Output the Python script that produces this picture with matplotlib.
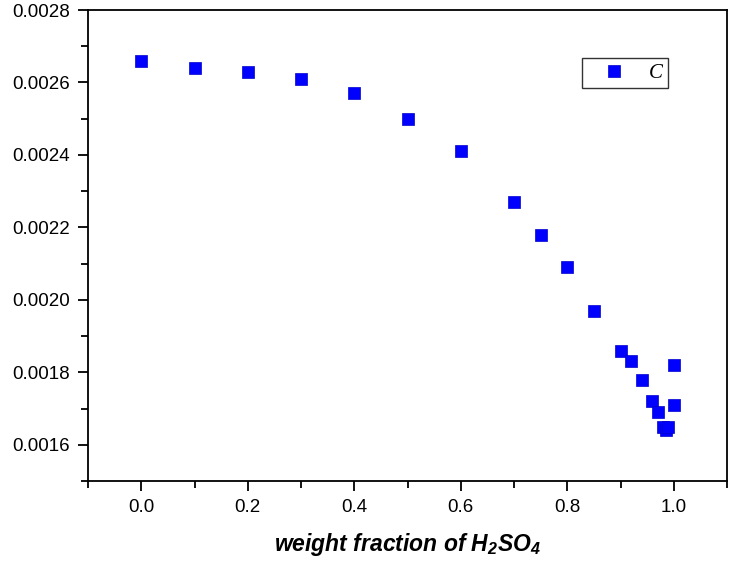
import matplotlib
matplotlib.use("Agg")
import matplotlib.pyplot as plt
from matplotlib.ticker import MultipleLocator, FormatStrFormatter

x_frac = [0.0, 0.1, 0.2, 0.3, 0.4, 0.5, 0.6, 0.7, 0.75, 0.8, 0.85, 0.9, 0.92,
          0.94, 0.96, 0.97, 0.98, 0.985, 0.99, 1.0, 1.0]
c_vals = [0.00266, 0.00264, 0.00263, 0.00261, 0.00257, 0.00250, 0.00241, 0.00227,
          0.00218, 0.00209, 0.00197, 0.00186, 0.00183, 0.00178, 0.00172, 0.00169,
          0.00165, 0.00164, 0.00165, 0.00171, 0.00182]
series_label = "C"

plt.rcParams['font.family'] = ['Liberation Sans', 'DejaVu Sans']
plt.rcParams['mathtext.fontset'] = 'custom'
plt.rcParams['mathtext.rm'] = 'Liberation Sans:italic:bold'
plt.rcParams['mathtext.it'] = 'Liberation Sans:italic:bold'

fig = plt.figure(figsize=(7.52, 5.67), dpi=100)
ax = fig.add_axes([88/752, 1-481/567, (727-88)/752, (481-10)/567])

ax.plot(x_frac, c_vals, linestyle='none', marker='s', markersize=8.5,
        markerfacecolor='#0000ff', markeredgecolor='#0000cc', markeredgewidth=0.5,
        label=series_label)

ax.set_xlim(-0.1, 1.1)
ax.set_ylim(0.0015, 0.0028)
ax.xaxis.set_major_locator(MultipleLocator(0.2))
ax.xaxis.set_minor_locator(MultipleLocator(0.1))
ax.yaxis.set_major_locator(MultipleLocator(0.0002))
ax.yaxis.set_minor_locator(MultipleLocator(0.0001))
ax.xaxis.set_major_formatter(FormatStrFormatter('%.1f'))
ax.yaxis.set_major_formatter(FormatStrFormatter('%.4f'))

ax.tick_params(which='both', direction='out', top=False, right=False, width=1.3,
               labelsize=13.5, color='black')
ax.tick_params(which='major', length=7, pad=6)
ax.tick_params(which='minor', length=5)
for s in ax.spines.values():
    s.set_linewidth(1.3)

ax.set_xlabel(r'weight fraction of H$_2$SO$_4$', fontsize=16.5, fontstyle='italic',
              fontweight='bold', labelpad=11)

leg = ax.legend(loc='upper right', bbox_to_anchor=(668/752, 1-58/567),
                bbox_transform=fig.transFigure, frameon=True, fancybox=False,
                edgecolor='black', borderaxespad=0,
                prop={'family': 'Liberation Serif', 'style': 'italic', 'size': 15},
                handletextpad=0.4, borderpad=0.25, handlelength=2.57)
leg.get_frame().set_linewidth(1.0)

fig.savefig('out.png', dpi=100)
